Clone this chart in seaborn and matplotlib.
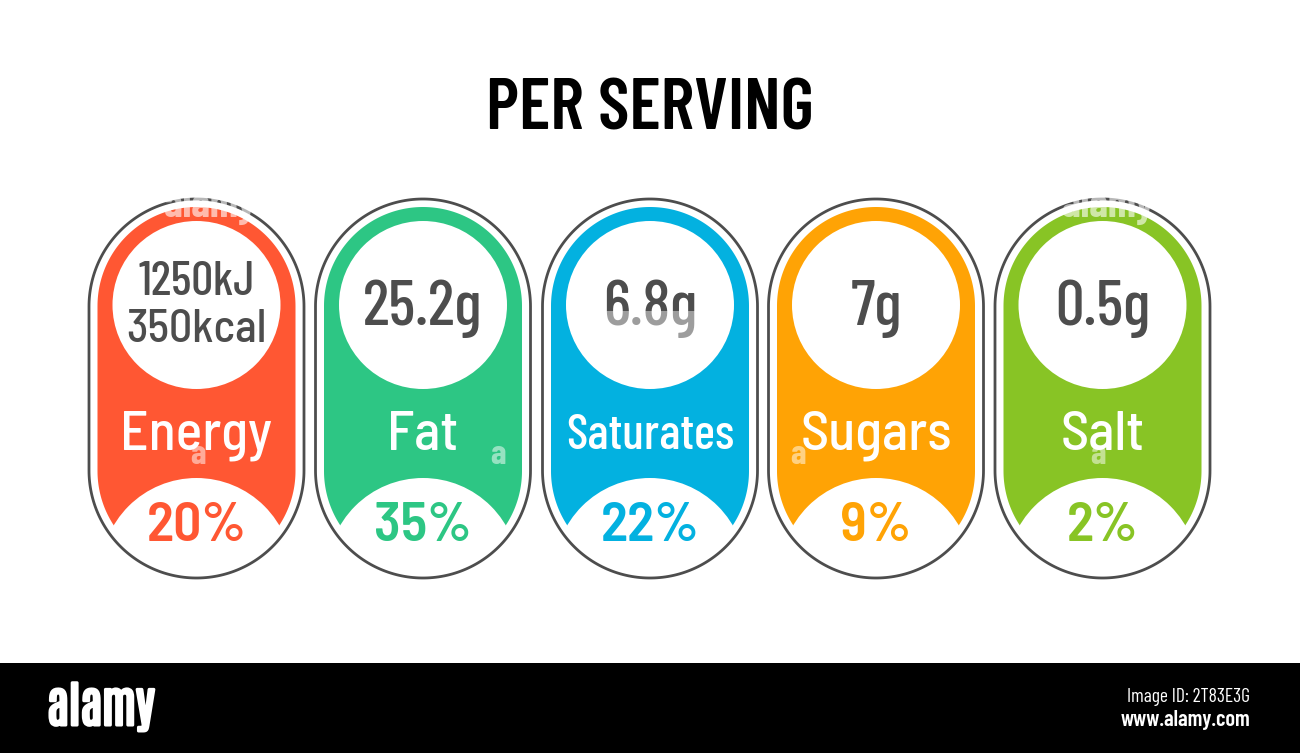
import matplotlib
matplotlib.use("Agg")
import numpy as np
import matplotlib.pyplot as plt
import matplotlib.patheffects as pe
from matplotlib.patches import Circle, Polygon, Rectangle
import seaborn as sns

# ---- data ----
TITLE = "PER SERVING"
categories = ["Energy", "Fat", "Saturates", "Sugars", "Salt"]
amounts = ["1250kJ\n350kcal", "25.2g", "6.8g", "7g", "0.5g"]
percents = [20, 35, 22, 9, 2]
colors = ["#FF5733", "#2DC684", "#03B1E0", "#FFA305", "#88C425"]
FOOTER_LOGO = "alamy"
FOOTER_ID = "Image ID: 2T83E3G"
FOOTER_URL = "www.alamy.com"
WATERMARK_TOPS = [210, 1108]
WATERMARK_LETTERS = [198, 498, 798, 1098]

# ---- style ----
sns.set_theme(style="white", rc={"axes.grid": False})
COND = ["Barlow Condensed", "Abel", "Roboto", "DejaVu Sans"]
SEMI = ["Barlow Semi Condensed", "Barlow Condensed", "Roboto", "DejaVu Sans"]
NARROW = ["Antonio", "Oswald", "Barlow Condensed", "Roboto", "DejaVu Sans"]
plt.rcParams["font.family"] = COND
palette = sns.color_palette(colors)
DARK = "#4D4D4D"

fig = plt.figure(figsize=(13, 7.53), dpi=100)
ax = fig.add_axes([0, 0, 1, 1])
ax.set_xlim(0, 1300)
ax.set_ylim(753, 0)
ax.axis("off")

CENTERS = [196.5, 423, 650, 876, 1102.5]


def pill(cx, top, bottom, half, **kw):
    """Capsule with true semicircular ends."""
    t = np.linspace(0, np.pi, 120)
    xs = np.r_[cx + half * np.cos(t), cx - half * np.cos(t)]
    ys = np.r_[top + half - half * np.sin(t), bottom - half + half * np.sin(t)]
    return Polygon(np.c_[xs, ys], closed=True, **kw)


for cx, cat, amt, pct, col in zip(CENTERS, categories, amounts, percents, palette):
    ax.add_patch(pill(cx, 207, 570, 99, facecolor=col, edgecolor="none", zorder=1))
    limit = pill(cx, 203, 574, 103, facecolor="none", edgecolor="none", zorder=0)
    ax.add_patch(limit)
    dome = Circle((cx, 574), 96, facecolor="white", edgecolor="none", zorder=2)
    ax.add_patch(dome)
    dome.set_clip_path(limit)
    ax.add_patch(Circle((cx, 305), 84, facecolor="white", edgecolor="none", zorder=2))
    ax.add_patch(pill(cx, 199, 578, 107.5, facecolor="none", edgecolor=DARK, linewidth=2.0, zorder=3))

    if "\n" in amt:
        first, second = amt.split("\n")
        ax.text(cx, 282, first, ha="center", va="center", color=DARK, fontsize=35, fontweight=500, zorder=4)
        ax.text(cx, 330, second, ha="center", va="center", family=SEMI, color=DARK, fontsize=33, fontweight=500, zorder=4)
    else:
        ax.text(cx, 309, amt, ha="center", va="center", color=DARK, fontsize=46, fontweight=500, zorder=4)
    if cat == "Saturates":
        ax.text(cx, 436, cat, ha="center", va="center", color="white", fontsize=36, fontweight=500, zorder=4)
    else:
        ax.text(cx, 436, cat, ha="center", va="center", family=SEMI, color="white", fontsize=40, fontweight=500, zorder=4)
    ax.text(cx, 527, f"{pct}%", ha="center", va="center", family=SEMI, color=col, fontsize=40, fontweight=600, zorder=4)

ax.text(650, 111, TITLE, ha="center", va="center", color="black", fontsize=52, fontweight=600)

# stock-photo watermark remnants seen in the reference
for x in WATERMARK_TOPS:
    ax.text(x, 206, FOOTER_LOGO, ha="center", va="center", color="white", alpha=0.6, fontsize=30, fontweight=700, zorder=5)
for x in WATERMARK_LETTERS:
    ax.text(x, 455, FOOTER_LOGO[0], ha="center", va="center", color="white", alpha=0.5, fontsize=25, fontweight=700, zorder=5)
ax.add_patch(Rectangle((595, 311), 110, 32, facecolor="white", edgecolor="none", alpha=0.45, zorder=5))

# footer band
ax.add_patch(Rectangle((0, 663), 1300, 90, facecolor="black", edgecolor="none", zorder=1))
logo = ax.text(101, 707, FOOTER_LOGO, ha="center", va="center", family=NARROW, color="white", fontsize=35, fontweight=700, zorder=2)
logo.set_path_effects([pe.withStroke(linewidth=2.2, foreground="white")])
ax.text(1250, 697, FOOTER_ID, ha="right", va="center", color="white", fontsize=14, zorder=2)
ax.text(1250, 720, FOOTER_URL, ha="right", va="center", color="white", fontsize=16, fontweight=600, zorder=2)

fig.savefig("out.png", dpi=100, facecolor="white")
